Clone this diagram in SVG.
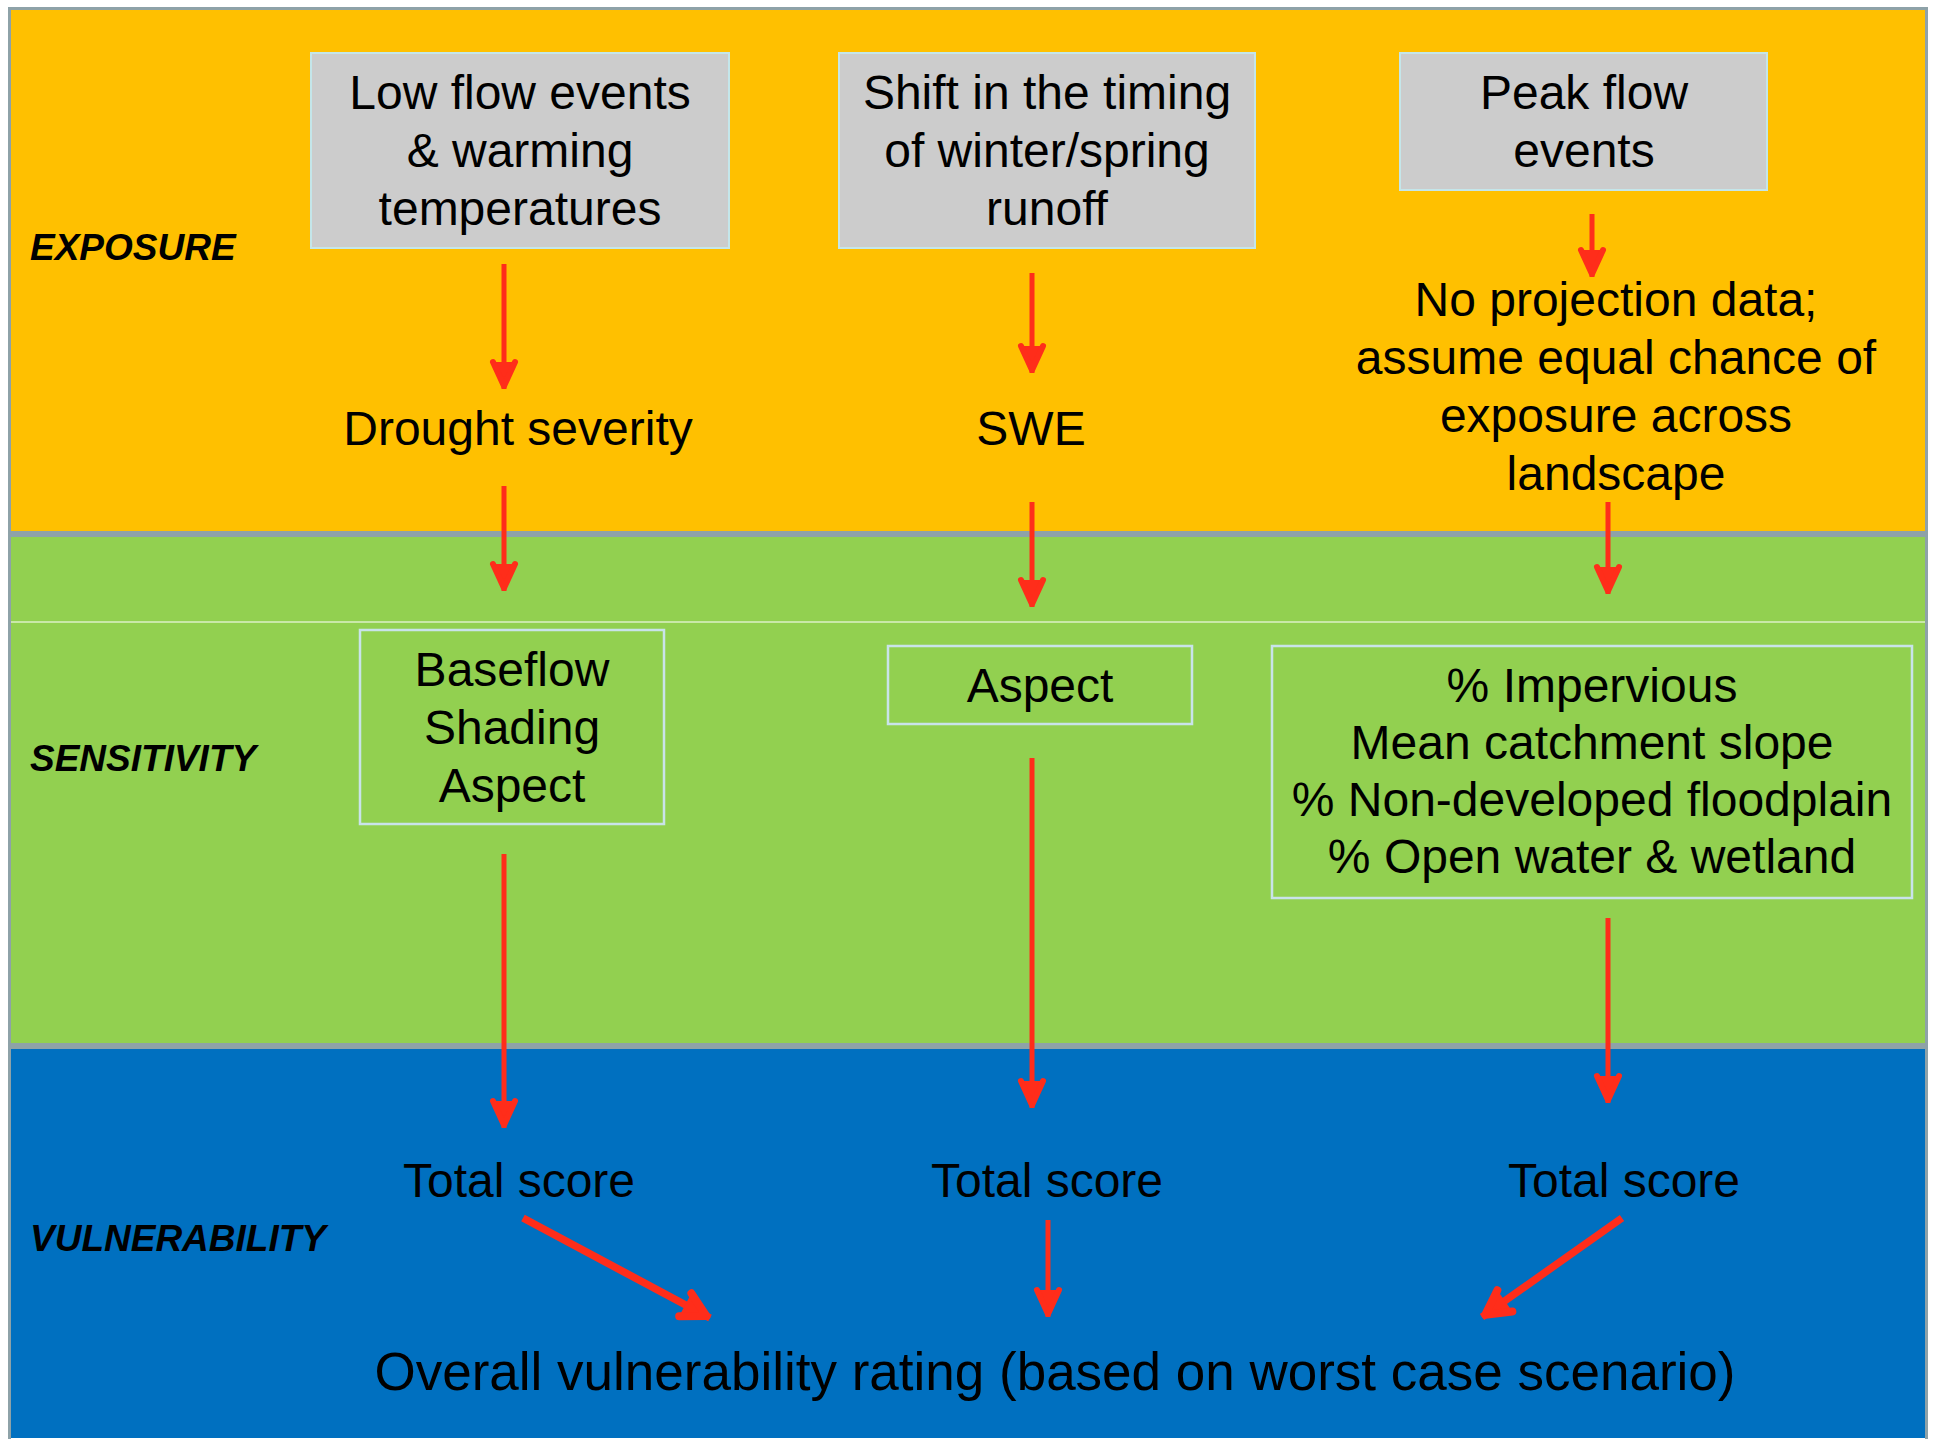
<svg xmlns="http://www.w3.org/2000/svg" width="1937" height="1439" viewBox="0 0 1937 1439">
  <defs>
    <style>
      .t { font-family: "Liberation Sans", Arial, sans-serif; font-size: 48px; fill: #000; text-anchor: middle; }
      .big { font-size: 53px; }
      .lbl { font-family: "Liberation Sans", Arial, sans-serif; font-size: 37px; font-weight: bold; font-style: italic; fill: #000; }
      .gbox { fill: #CCCCCC; stroke: #C4E6EA; stroke-width: 2; }
      .sbox { fill: none; stroke: #C9E3EA; stroke-width: 2.5; }
      .arr { stroke: #FF2D1A; stroke-width: 5; fill: none; marker-end: url(#head); }
      .arr2 { stroke: #FF2D1A; stroke-width: 7.5; fill: none; marker-end: url(#head2); }
    </style>
    <marker id="head" markerUnits="userSpaceOnUse" viewBox="-40 -25 45 50" markerWidth="45" markerHeight="50" refX="0" refY="0" orient="auto">
      <path d="M-27,-11 L-3,0 L-27,11" fill="#FF2D1A" stroke="#FF2D1A" stroke-width="6" stroke-linecap="round" stroke-linejoin="round"/>
    </marker>
    <marker id="head2" markerUnits="userSpaceOnUse" viewBox="-40 -25 45 50" markerWidth="45" markerHeight="50" refX="0" refY="0" orient="auto">
      <path d="M-28,-13 L-4,0 L-28,13" fill="#FF2D1A" stroke="#FF2D1A" stroke-width="8" stroke-linecap="round" stroke-linejoin="round"/>
    </marker>
  </defs>

  <rect x="0" y="0" width="1937" height="1439" fill="#FFFFFF"/>

  <g id="bands">
    <rect x="9" y="8" width="1918" height="526" fill="#FFC000"/>
    <rect x="9" y="534" width="1918" height="512" fill="#92D050"/>
    <rect x="9" y="1046" width="1918" height="392" fill="#0070C0"/>
    <line x1="9" y1="622" x2="1926" y2="622" stroke="#FFFFFF" stroke-width="1.2"/>
    <line x1="9" y1="534" x2="1926" y2="534" stroke="#8EA2A8" stroke-width="6"/>
    <line x1="9" y1="1046" x2="1926" y2="1046" stroke="#8EA2A8" stroke-width="6"/>
    <rect x="9.5" y="8.5" width="1917" height="1432" fill="none" stroke="#8EA2A8" stroke-width="3"/>
  </g>

  <g id="labels">
    <text class="lbl" x="30" y="260">EXPOSURE</text>
    <text class="lbl" x="30" y="771">SENSITIVITY</text>
    <text class="lbl" x="30" y="1251">VULNERABILITY</text>
  </g>

  <g id="connectors">
    <line class="arr" x1="504" y1="264" x2="504" y2="389"/>
    <line class="arr" x1="504" y1="486" x2="504" y2="591"/>
    <line class="arr" x1="504" y1="854" x2="504" y2="1128"/>
    <line class="arr" x1="1032" y1="273" x2="1032" y2="373"/>
    <line class="arr" x1="1032" y1="502" x2="1032" y2="607"/>
    <line class="arr" x1="1032" y1="758" x2="1032" y2="1108"/>
    <line class="arr" x1="1592" y1="214" x2="1592" y2="277"/>
    <line class="arr" x1="1608" y1="502" x2="1608" y2="594"/>
    <line class="arr" x1="1608" y1="918" x2="1608" y2="1103"/>
    <line class="arr2" x1="523" y1="1218" x2="710" y2="1318"/>
    <line class="arr" x1="1048" y1="1220" x2="1048" y2="1317"/>
    <line class="arr2" x1="1622" y1="1218" x2="1482" y2="1317"/>
  </g>

  <g id="low-flow">
    <rect class="gbox" x="311" y="53" width="418" height="195"/>
    <text class="t" x="520" y="109">Low flow events</text>
    <text class="t" x="520" y="167">&amp; warming</text>
    <text class="t" x="520" y="225">temperatures</text>
  </g>
  <g id="shift-timing">
    <rect class="gbox" x="839" y="53" width="416" height="195"/>
    <text class="t" x="1047" y="109">Shift in the timing</text>
    <text class="t" x="1047" y="167">of winter/spring</text>
    <text class="t" x="1047" y="225">runoff</text>
  </g>
  <g id="peak-flow">
    <rect class="gbox" x="1400" y="53" width="367" height="137"/>
    <text class="t" x="1584" y="109">Peak flow</text>
    <text class="t" x="1584" y="167">events</text>
  </g>

  <g id="drought">
    <text class="t" x="518" y="445">Drought severity</text>
  </g>
  <g id="swe">
    <text class="t" x="1031" y="445">SWE</text>
  </g>
  <g id="no-projection">
    <text class="t" x="1616" y="316">No projection data;</text>
    <text class="t" x="1616" y="374">assume equal chance of</text>
    <text class="t" x="1616" y="432">exposure across</text>
    <text class="t" x="1616" y="490">landscape</text>
  </g>

  <g id="sens-1">
    <rect class="sbox" x="360" y="630" width="304" height="194"/>
    <text class="t" x="512" y="686">Baseflow</text>
    <text class="t" x="512" y="744">Shading</text>
    <text class="t" x="512" y="802">Aspect</text>
  </g>
  <g id="sens-2">
    <rect class="sbox" x="888" y="646" width="304" height="78"/>
    <text class="t" x="1040" y="702">Aspect</text>
  </g>
  <g id="sens-3">
    <rect class="sbox" x="1272" y="646" width="640" height="252"/>
    <text class="t" x="1592" y="702">% Impervious</text>
    <text class="t" x="1592" y="759">Mean catchment slope</text>
    <text class="t" x="1592" y="816">% Non-developed floodplain</text>
    <text class="t" x="1592" y="873">% Open water &amp; wetland</text>
  </g>

  <g id="total-1">
    <text class="t" x="519" y="1197">Total score</text>
  </g>
  <g id="total-2">
    <text class="t" x="1047" y="1197">Total score</text>
  </g>
  <g id="total-3">
    <text class="t" x="1624" y="1197">Total score</text>
  </g>
  <g id="overall">
    <text class="t big" x="1055" y="1390">Overall vulnerability rating (based on worst case scenario)</text>
  </g>
</svg>
